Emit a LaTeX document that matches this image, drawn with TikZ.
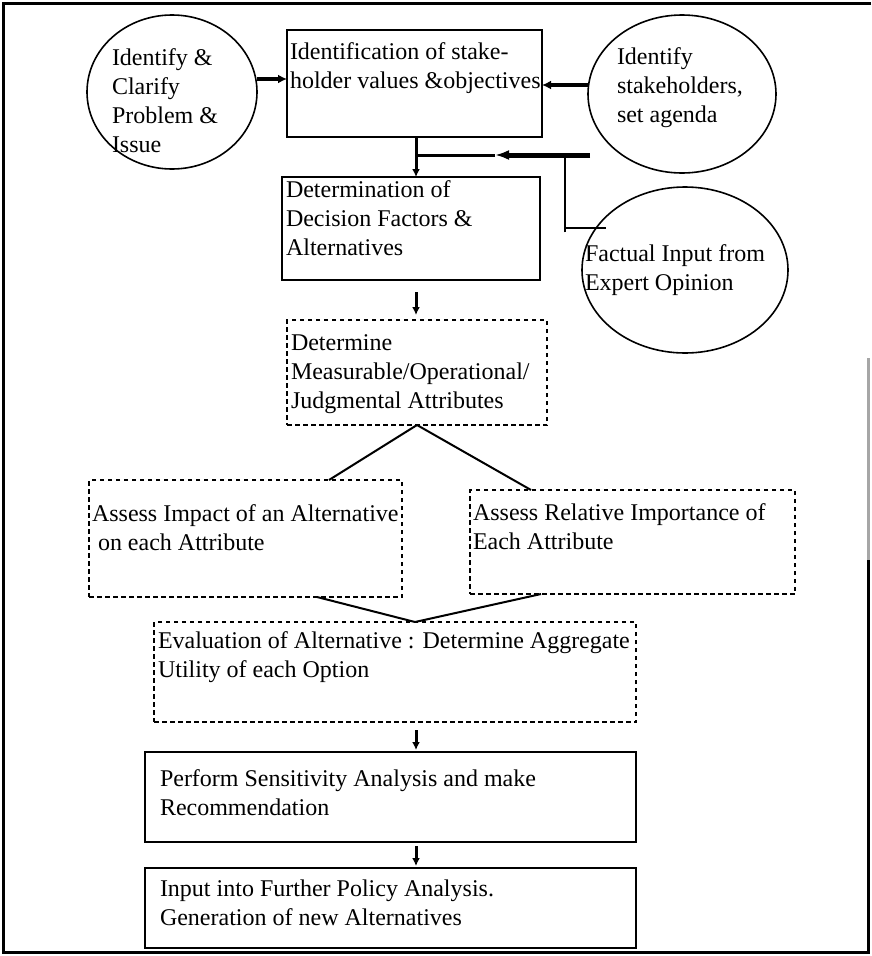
\documentclass[tikz,border=0pt]{standalone}
\usepackage{fontspec}
\setmainfont{Liberation Serif}
\usetikzlibrary{shapes.geometric,arrows.meta,calc}
\begin{document}
\begin{tikzpicture}[x=1pt,y=-1pt,
  box/.style={draw, line width=1.7pt, inner sep=0pt, outer sep=0pt},
  dbox/.style={draw, line width=1.5pt, inner sep=0pt, outer sep=0pt, dash pattern=on 4.5pt off 3.5pt},
  oval/.style={draw, ellipse, line width=1.6pt, inner sep=0pt, outer sep=0pt},
  txt/.style={anchor=north west, inner sep=0pt, outer sep=0pt, align=left, font=\fontsize{24}{29}\selectfont},
  thickarr/.style={line width=4.5pt, -{Latex[length=9pt,width=9pt]}},
  medarr/.style={line width=3pt, -{Latex[length=8pt,width=8pt]}},
  conn/.style={line width=2pt},
  frameline/.style={line width=2.2pt}]
\useasboundingbox (0,0) rectangle (871,956);
% outer frame (right side partly faded as in the scan)
\draw[frameline] (871,3.5) -- (3.5,3.5) -- (3.5,952.5) -- (868.5,952.5) -- (868.5,560);
\draw[frameline, black!35] (868.5,560) -- (868.5,358);

% ellipses
\node[oval, minimum width=170pt, minimum height=154pt] (E1) at (172,92) {};
\node[oval, minimum width=188pt, minimum height=158pt] (E2) at (682,94) {};
\node[oval, minimum width=206pt, minimum height=166pt] (E3) at (685,270) {};

% boxes
\node[box,  minimum width=255pt, minimum height=107pt] (B1) at (414.5,83.5) {};
\node[box,  minimum width=258pt, minimum height=103pt] (B2) at (411,228.5) {};
\node[dbox, minimum width=260pt, minimum height=105pt] (B3) at (417,372.5) {};
\node[dbox, minimum width=313pt, minimum height=117pt] (B4) at (245.5,538.5) {};
\node[dbox, minimum width=325pt, minimum height=104pt] (B5) at (632.5,542) {};
\node[dbox, minimum width=482pt, minimum height=100pt] (B6) at (395,672) {};
\node[box,  minimum width=491pt, minimum height=90pt]  (B7) at (390.5,797) {};
\node[box,  minimum width=491pt, minimum height=80pt]  (B8) at (390.5,908) {};

% texts
\node[txt] (T1) at (112,48.5) {Identify \&\\Clarify\\Problem \&\\Issue};
\node[txt] (T2) at (617,48) {Identify\\stakeholders,\\set agenda};
\node[txt] (T3) at (585,244.5) {Factual Input from\\Expert Opinion};
\node[txt] (TB1) at (290,42.5) {Identification of stake-\\holder values \&objectives};
\node[txt] (TB2) at (286,180.5) {Determination of\\Decision Factors \&\\Alternatives};
\node[txt] (TB3) at (291,334.5) {Determine\\Measurable/Operational/\\Judgmental Attributes};
\node[txt] (TB4) at (92,504.5) {Assess Impact of an Alternative\\\hspace*{6pt}on each Attribute};
\node[txt] (TB5) at (473,503.5) {Assess Relative Importance of\\Each Attribute};
\node[txt] (TB6) at (158,631.5) {Evaluation of Alternative : Determine Aggregate\\Utility of each Option};
\node[txt] (TB7) at (160,769.5) {Perform Sensitivity Analysis and make\\Recommendation};
\node[txt] (TB8) at (160,879.5) {Input into Further Policy Analysis.\\Generation of new Alternatives};

% junction coordinates
\coordinate (j0) at (416,155);
\coordinate (hr) at (590,155);
\coordinate (hm) at (495,155);
\coordinate (bj) at (565,155);

% connectors top
\draw[thickarr] ([yshift=13pt]E1.east) -- ([yshift=13pt]E1.east -| B1.west);
\draw[thickarr] ([yshift=9pt]E2.west) -- ([yshift=9pt]E2.west -| B1.east);
\draw[medarr] (B1.south -| j0) -- (B2.north -| j0);
\draw[line width=5pt, -{Latex[length=14pt,width=10pt]}] (hr) -- (hm);
\draw[line width=3pt] (hm) -- (j0);
\draw[conn] ([xshift=10pt]E3.155) -- (E3.155 -| bj);
\draw[conn] ([yshift=-4pt]E3.155 -| bj) -- (bj);

% middle
\draw[medarr] ([yshift=-12pt]B2.south -| j0) -- ([yshift=5pt]B3.north -| j0);
\draw[conn] (B3.south) -- ([xshift=240pt]B4.north west);
\draw[conn] (B3.south) -- ([xshift=61pt]B5.north west);
\draw[conn] ([xshift=228pt]B4.south west) -- ([xshift=261pt]B6.north west);
\draw[conn] ([xshift=71pt]B5.south west) -- ([xshift=261pt]B6.north west);

% bottom
\draw[medarr] ([yshift=-8pt]B6.south -| j0) -- ([yshift=2pt]B7.north -| j0);
\draw[medarr] ([yshift=-4pt]B7.south -| j0) -- ([yshift=2pt]B8.north -| j0);
\end{tikzpicture}
\end{document}
